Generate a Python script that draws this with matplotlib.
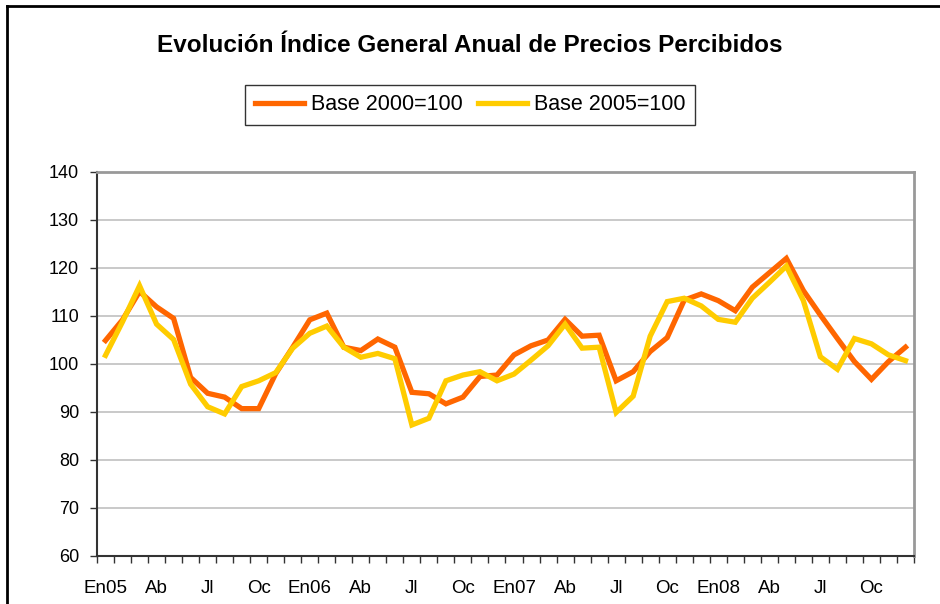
import matplotlib
matplotlib.use("Agg")
import matplotlib.pyplot as plt
from matplotlib.lines import Line2D

plt.rcParams['font.family'] = ['Liberation Sans', 'DejaVu Sans']

# Indice general anual de precios percibidos, En05 - Dic08 (mensual)
base_2000 = [104.9, 109.2, 115.1, 111.9, 109.5, 97.2, 93.9, 93.1, 90.7, 90.7, 98.0, 103.5,
             109.2, 110.6, 103.5, 102.8, 105.2, 103.5, 94.1, 93.8, 91.7, 93.1, 97.4, 97.7,
             101.9, 103.8, 105.0, 109.3, 105.8, 106.0, 96.5, 98.4, 102.6, 105.5, 113.3, 114.6,
             113.2, 111.1, 116.0, 119.0, 122.0, 115.3, 110.2, 105.3, 100.5, 96.8, 100.5, 103.5]
base_2005 = [101.8, 108.8, 116.3, 108.3, 105.1, 95.8, 91.1, 89.6, 95.3, 96.5, 98.2, 103.3,
             106.4, 107.9, 103.5, 101.4, 102.2, 101.1, 87.3, 88.7, 96.5, 97.7, 98.4, 96.5,
             97.9, 100.8, 103.8, 108.3, 103.3, 103.5, 89.9, 93.3, 105.8, 113.0, 113.7, 112.1,
             109.3, 108.7, 113.7, 117.0, 120.4, 113.2, 101.5, 98.9, 105.3, 104.2, 101.9, 100.7]
month_labels = ['En05', 'Ab', 'Jl', 'Oc', 'En06', 'Ab', 'Jl', 'Oc',
                'En07', 'Ab', 'Jl', 'Oc', 'En08', 'Ab', 'Jl', 'Oc']

fig = plt.figure(figsize=(9.4, 6.04), dpi=100)
ax = fig.add_axes([97 / 940, 1 - 556 / 604, 817 / 940, 384 / 604])

x = list(range(len(base_2000)))
ax.plot(x, base_2000, color='#FF6600', lw=3.8, label='Base 2000=100', solid_joinstyle='miter')
ax.plot(x, base_2005, color='#FFCC00', lw=3.8, label='Base 2005=100', solid_joinstyle='miter')

ax.set_xlim(-0.5, len(x) - 0.5)
ax.set_ylim(60, 140)
ax.set_yticks(range(60, 141, 10))
ax.yaxis.grid(True, color='#c0c0c0', lw=1.2)
ax.set_axisbelow(True)

# ticks between categories, labels every 3 months
ax.set_xticks([i - 0.5 for i in range(len(x) + 1)])
ax.set_xticklabels([])
ax.set_xticks(list(range(0, len(x), 3)), minor=True)
ax.set_xticklabels(month_labels, minor=True, fontsize=13.5)
ax.tick_params(axis='x', which='major', length=5, width=1, color='#333333', direction='out')
ax.tick_params(axis='x', which='minor', length=0, pad=17)
ax.tick_params(axis='y', length=5, width=1, color='#333333', pad=8, labelsize=13)

for s in ('left', 'bottom'):
    ax.spines[s].set_color('#333333')
    ax.spines[s].set_linewidth(1.5)
for s in ('top', 'right'):
    ax.spines[s].set_color('#999999')
    ax.spines[s].set_linewidth(2)

fig.text(0.5, 1 - 46 / 604, 'Evolución Índice General Anual de Precios Percibidos',
         ha='center', va='center', fontsize=17.5, fontweight='bold')

leg = fig.legend(loc='center', bbox_to_anchor=(470 / 940, 1 - 105 / 604), ncol=2,
                 fontsize=15.5, frameon=True, fancybox=False, handlelength=2.3,
                 handletextpad=0.3, columnspacing=0.7, borderpad=0.45)
leg.get_frame().set_edgecolor('#000000')
leg.get_frame().set_linewidth(1)

# outer chart border (only top and left visible)
fig.add_artist(Line2D([7 / 940, 7 / 940], [0, 1 - 6 / 604], transform=fig.transFigure,
                      color='black', lw=2))
fig.add_artist(Line2D([7 / 940, 1], [1 - 6 / 604, 1 - 6 / 604], transform=fig.transFigure,
                      color='black', lw=2))

fig.savefig('out.png', dpi=100)
